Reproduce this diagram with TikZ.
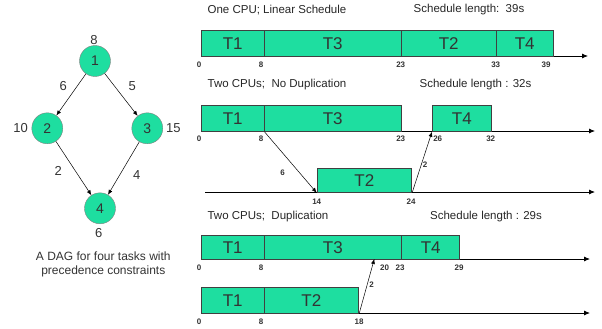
\documentclass[tikz,border=0pt]{standalone}
\usepackage{fontspec}
\setmainfont{Liberation Sans}
\usetikzlibrary{arrows.meta}
\definecolor{teal1}{RGB}{30,222,160}
\newcommand\tbx[6]{\node[tbox, minimum width={(#3-#2)*1pt}, minimum height={(#5-#4)*1pt}] (#1) at (#2,#4) {#6};}
\begin{document}
\begin{tikzpicture}[x=1pt,y=-1pt,
  tbox/.style={draw=black!75, fill=teal1, line width=0.8pt, anchor=north west, inner sep=0pt, font=\fontsize{17}{17}\selectfont, text=black!80},
  ticklab/.style={font=\bfseries\fontsize{8}{8}\selectfont, text=black!80, inner sep=0pt},
  schtitle/.style={font=\fontsize{11.5}{12}\selectfont, text=black!85, inner sep=0pt},
  tline/.style={draw=black, line width=0.8pt, -{Latex[length=6pt,width=5pt]}},
  msg/.style={draw=black, line width=0.5pt, -{Latex[length=5pt,width=4pt]}},
  dag/.style={circle, draw=black!50, fill=teal1, minimum size=31pt, inner sep=0pt, font=\fontsize{14}{14}\selectfont, text=black!80},
  wlab/.style={font=\fontsize{13}{13}\selectfont, text=black!80, inner sep=0pt},
  msglab/.style={font=\bfseries\fontsize{8}{8}\selectfont, text=black!80, inner sep=0pt}
]
\useasboundingbox (0,0) rectangle (602,329);

% ---------- DAG ----------
\node[dag] (n1) at (95,61) {1};
\node[dag] (n2) at (47.3,128.3) {2};
\node[dag] (n3) at (147.3,128.3) {3};
\node[dag] (n4) at (100,208.3) {4};
\draw[msg] (n1) -- (n2);
\draw[msg] (n1) -- (n3);
\draw[msg] (n2) -- (n4);
\draw[msg] (n3) -- (n4);
\node[wlab] (w1) at (94,40) {8};
\node[wlab] (w2) at (20.7,127.7) {10};
\node[wlab] (w3) at (173.3,127.7) {15};
\node[wlab] (w4) at (98.7,233.3) {6};
\node[wlab] (e12) at (63.3,86) {6};
\node[wlab] (e13) at (132.3,86) {5};
\node[wlab] (e24) at (58.3,171) {2};
\node[wlab] (e34) at (136.7,175) {4};
\node[font=\fontsize{12}{14.5}\selectfont, text=black!80, align=center, inner sep=0pt] (cap) at (103.3,264.5) {A DAG for four tasks with\\precedence constraints};

% ---------- Schedule 1 ----------
\node[schtitle] (t1) at (277,10) {One CPU; Linear Schedule};
\node[schtitle] (l1) at (469,10) {Schedule length:\ \ 39s};
\coordinate (r1s) at (201,56);
\coordinate (r1e) at (588,56);
\draw[tline] (r1s) -- (r1e);
\tbx{a1}{201}{263.7}{30}{56}{T1}
\tbx{a3}{263.7}{401}{30}{56}{T3}
\tbx{a2}{401}{495.7}{30}{56}{T2}
\tbx{a4}{495.7}{553}{30}{56}{T4}
\node[ticklab] (k10) at (199,65) {0};
\node[ticklab] (k11) at (261,65) {8};
\node[ticklab] (k12) at (400.7,65) {23};
\node[ticklab] (k13) at (495.7,65) {33};
\node[ticklab] (k14) at (546,65) {39};

% ---------- Schedule 2 ----------
\node[schtitle] (t2) at (277,85) {Two CPUs;\ \ No Duplication};
\node[schtitle] (l2) at (475.5,85) {Schedule length : 32s};
\coordinate (r2s) at (201,131);
\coordinate (r2e) at (595,131);
\draw[tline] (r2s) -- (r2e);
\coordinate (r3s) at (205,192);
\coordinate (r3e) at (595,192);
\draw[tline] (r3s) -- (r3e);
\tbx{b1}{201}{263.7}{105}{131}{T1}
\tbx{b3}{263.7}{401}{105}{131}{T3}
\tbx{b4}{432}{491}{105}{131}{T4}
\tbx{b2}{316.7}{411.3}{168}{192}{T2}
\draw[msg] (b1.south east) -- (b2.south west);
\draw[msg] (b2.south east) -- (b4.south west);
\node[msglab] (m1) at (282.7,172.7) {6};
\node[msglab] (m2) at (425,165) {2};
\node[ticklab] (k20) at (199,138.3) {0};
\node[ticklab] (k21) at (261,138.3) {8};
\node[ticklab] (k22) at (400.7,138.3) {23};
\node[ticklab] (k23) at (437.7,138.3) {26};
\node[ticklab] (k24) at (490.7,138.3) {32};
\node[ticklab] (k25) at (316.7,201.7) {14};
\node[ticklab] (k26) at (411,201.7) {24};

% ---------- Schedule 3 ----------
\node[schtitle] (t3) at (268,216.7) {Two CPUs;\ \ Duplication};
\node[schtitle] (l3) at (486,216.7) {Schedule length : 29s};
\coordinate (r4s) at (201,259);
\coordinate (r4e) at (590,259);
\draw[tline] (r4s) -- (r4e);
\coordinate (r5s) at (201,313);
\coordinate (r5e) at (590,313);
\draw[tline] (r5s) -- (r5e);
\tbx{c1}{201}{263.7}{235}{259}{T1}
\tbx{c3}{263.7}{401.3}{235}{259}{T3}
\tbx{c4}{401.3}{459.3}{235}{259}{T4}
\tbx{d1}{201}{263.7}{287}{313}{T1}
\tbx{d2}{263.7}{358.3}{287}{313}{T2}
\coordinate (a3e) at (374.3,259);
\draw[msg] (d2.south east) -- (a3e);
\node[msglab] (m3) at (371.7,285) {2};
\node[ticklab] (k30) at (199,268) {0};
\node[ticklab] (k31) at (261,268) {8};
\node[ticklab] (k32) at (384.5,268) {20};
\node[ticklab] (k33) at (400,268) {23};
\node[ticklab] (k34) at (459,268) {29};
\node[ticklab] (k40) at (199,322) {0};
\node[ticklab] (k41) at (261,322) {8};
\node[ticklab] (k42) at (359,322) {18};
\end{tikzpicture}
\end{document}
